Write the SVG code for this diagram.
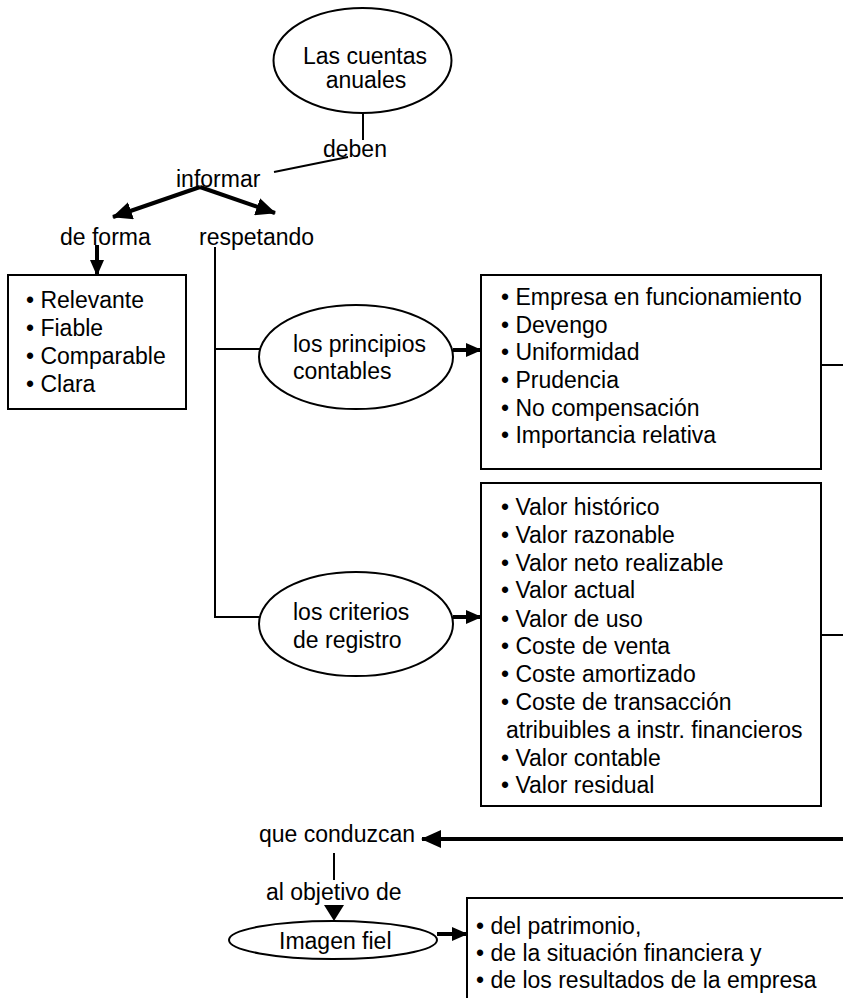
<svg xmlns="http://www.w3.org/2000/svg" width="843" height="998" viewBox="0 0 843 998">
<defs>
<style>
text{font-family:"Liberation Sans",Arial,sans-serif;font-size:23px;fill:#000}
.shape{fill:#fff;stroke:#000;stroke-width:2}
.thin{fill:none;stroke:#000;stroke-width:2}
.thick{fill:none;stroke:#000;stroke-width:4}
.head{fill:#000;stroke:none}
</style>
<marker id="ah" viewBox="0 0 20 18" refX="19" refY="9" markerWidth="20" markerHeight="18" markerUnits="userSpaceOnUse" orient="auto">
<path d="M0,0 L20,9 L0,18 z" fill="#000"/>
</marker>
<marker id="ahs" viewBox="0 0 16 14" refX="15" refY="7" markerWidth="16" markerHeight="14" markerUnits="userSpaceOnUse" orient="auto">
<path d="M0,0 L16,7 L0,14 z" fill="#000"/>
</marker>
</defs>
<rect width="843" height="998" fill="#fff"/>

<g id="connectors">
<line class="thin" x1="363" y1="113" x2="363" y2="140"/>
<line class="thin" x1="348" y1="157" x2="274" y2="172"/>
<line class="thick" x1="200" y1="187" x2="113" y2="217" marker-end="url(#ah)"/>
<line class="thick" x1="200" y1="187" x2="275" y2="213" marker-end="url(#ah)"/>
<line class="thick" x1="97" y1="245" x2="97" y2="275" marker-end="url(#ahs)"/>
<polyline class="thin" points="215,247 215,617 259,617"/>
<line class="thin" x1="215" y1="349" x2="260" y2="349"/>
<line class="thick" x1="453" y1="350" x2="481" y2="350" marker-end="url(#ahs)"/>
<line class="thick" x1="453" y1="617" x2="481" y2="617" marker-end="url(#ahs)"/>
<line class="thin" x1="821" y1="365" x2="843" y2="365"/>
<line class="thin" x1="821" y1="635" x2="843" y2="635"/>
<line class="thick" x1="843" y1="839" x2="422" y2="839" marker-end="url(#ah)"/>
<line class="thin" x1="334" y1="853" x2="334" y2="880"/>
<polygon class="head" points="324,905 344,905 334,921"/>
<line class="thick" x1="437" y1="934" x2="467" y2="934" marker-end="url(#ahs)"/>
</g>

<g id="n-cuentas">
<ellipse class="shape" cx="362.5" cy="60.5" rx="89" ry="52.5"/>
<text x="365" y="64" text-anchor="middle">Las cuentas</text>
<text x="366" y="88" text-anchor="middle">anuales</text>
</g>

<g id="l-deben"><text x="323" y="157">deben</text></g>
<g id="l-informar"><text x="176" y="187">informar</text></g>
<g id="l-deforma"><text x="60" y="245">de forma</text></g>
<g id="l-respetando"><text x="199" y="245">respetando</text></g>

<g id="n-cualidades">
<rect class="shape" x="8" y="275" width="178" height="134"/>
<text x="26" y="308">• Relevante</text>
<text x="26" y="336">• Fiable</text>
<text x="26" y="364">• Comparable</text>
<text x="26" y="392">• Clara</text>
</g>

<g id="n-principios">
<ellipse class="shape" cx="356" cy="357" rx="97" ry="52"/>
<text x="293" y="352">los principios</text>
<text x="293" y="379">contables</text>
</g>

<g id="n-lista-principios">
<rect class="shape" x="481" y="275" width="340" height="194"/>
<text x="501" y="305">• Empresa en funcionamiento</text>
<text x="501" y="333">• Devengo</text>
<text x="501" y="360">• Uniformidad</text>
<text x="501" y="388">• Prudencia</text>
<text x="501" y="416">• No compensación</text>
<text x="501" y="443">• Importancia relativa</text>
</g>

<g id="n-criterios">
<ellipse class="shape" cx="356" cy="624" rx="97" ry="52"/>
<text x="293" y="620">los criterios</text>
<text x="293" y="648">de registro</text>
</g>

<g id="n-lista-criterios">
<rect class="shape" x="481" y="483" width="340" height="323"/>
<text x="501" y="515">• Valor histórico</text>
<text x="501" y="543">• Valor razonable</text>
<text x="501" y="571">• Valor neto realizable</text>
<text x="501" y="598">• Valor actual</text>
<text x="501" y="627">• Valor de uso</text>
<text x="501" y="654">• Coste de venta</text>
<text x="501" y="682">• Coste amortizado</text>
<text x="501" y="710">• Coste de transacción</text>
<text x="506" y="738">atribuibles a instr. financieros</text>
<text x="501" y="766">• Valor contable</text>
<text x="501" y="793">• Valor residual</text>
</g>

<g id="l-conduzcan"><text x="259" y="842">que conduzcan</text></g>
<g id="l-objetivo"><text x="266" y="900">al objetivo de</text></g>

<g id="n-imagen">
<ellipse class="shape" cx="333" cy="940" rx="104" ry="19"/>
<text x="279" y="949">Imagen fiel</text>
</g>

<g id="n-lista-imagen">
<rect class="shape" x="467" y="898" width="390" height="120"/>
<text x="476" y="934">• del patrimonio,</text>
<text x="476" y="961">• de la situación financiera y</text>
<text x="476" y="988">• de los resultados de la empresa</text>
</g>
</svg>
